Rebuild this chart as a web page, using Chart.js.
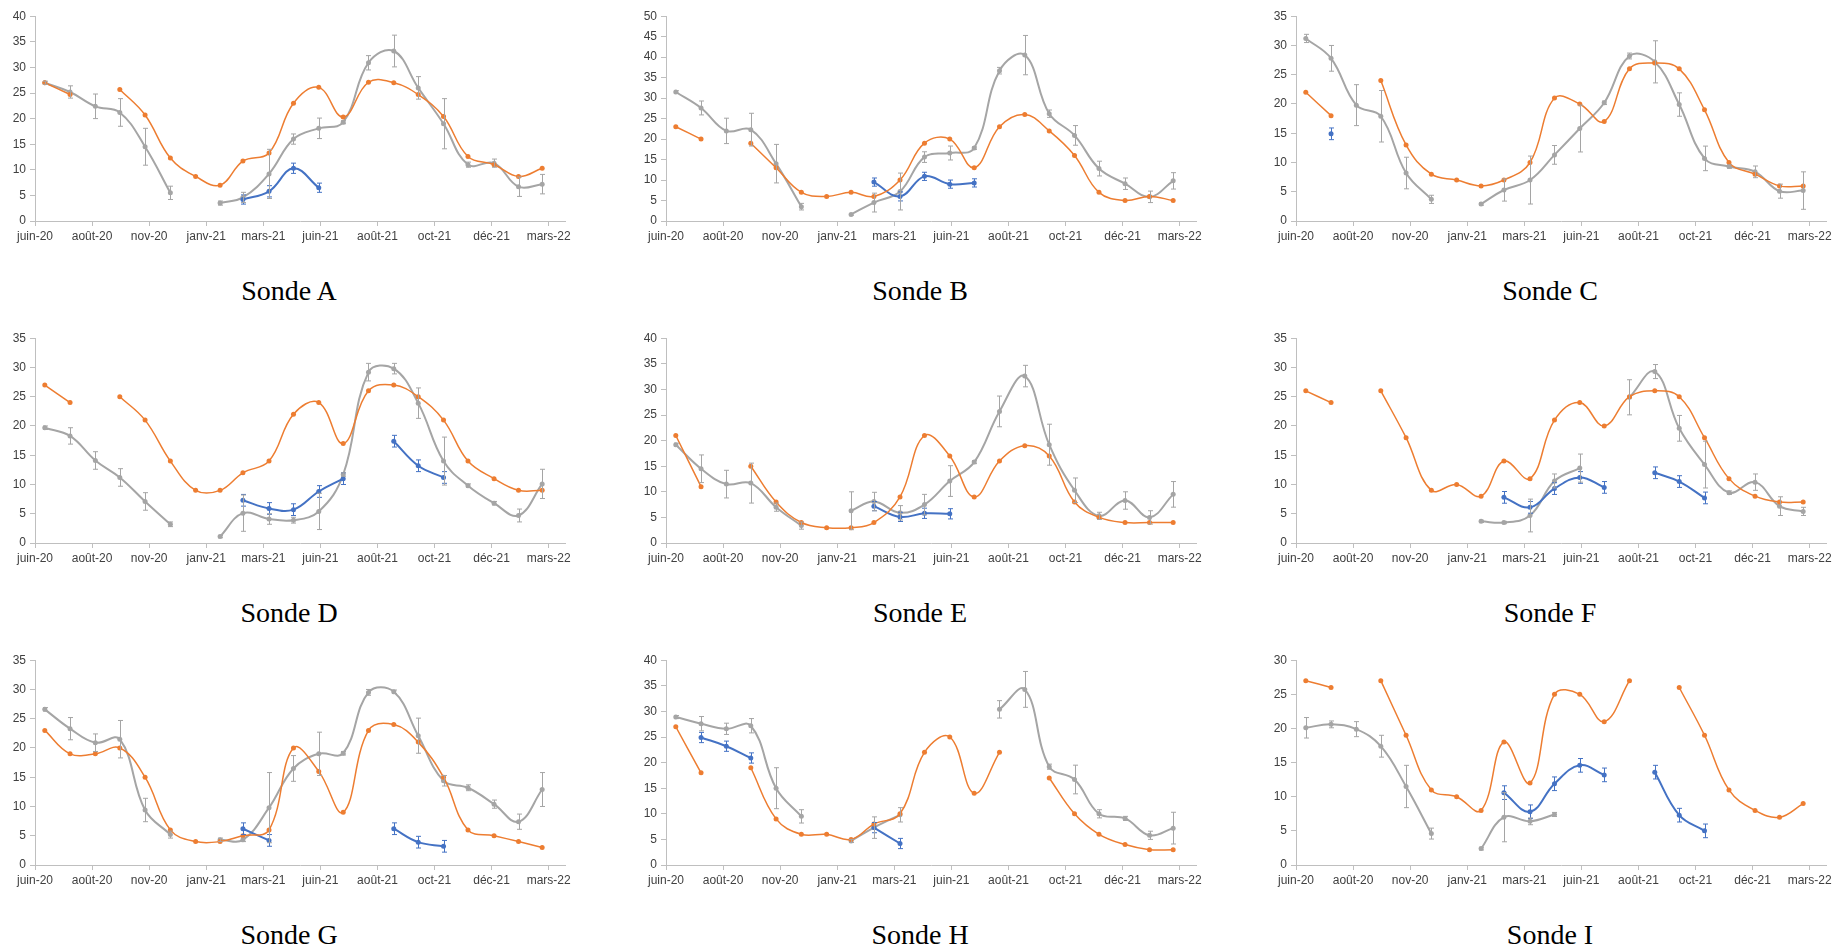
<!DOCTYPE html>
<html lang="fr">
<head>
<meta charset="utf-8">
<title>Sondes</title>
<script src="https://cdn.jsdelivr.net/npm/chart.js@4/dist/chart.umd.min.js"></script>
<style>
  html, body { margin: 0; padding: 0; background: #fff; }
  body { width: 1845px; height: 948px; position: relative; overflow: hidden; }
  canvas { position: absolute; }
  .titre {
    position: absolute;
    font-family: "Liberation Serif", "DejaVu Serif", serif;
    font-size: 28px;
    color: #000;
    transform: translate(-50%, -50%);
    white-space: nowrap;
  }
</style>
</head>
<body>
<script>
// jours depuis le début de l'axe (mi-juin 2020), un prélèvement par mois
const joursPrelevement = [12, 43, 74, 104, 135, 166, 197, 227, 255, 287, 317, 348, 378, 409, 440, 470, 501, 531, 563, 593, 622];
const joursGraduation = [0, 70, 140, 210, 280, 350, 420, 490, 560, 630];
const etiquettesX = ['juin-20', 'août-20', 'nov-20', 'janv-21', 'mars-21', 'juin-21', 'août-21', 'oct-21', 'déc-21', 'mars-22'];
const finAxeX = 650;

const nomsSondes = ['Sonde A', 'Sonde B', 'Sonde C', 'Sonde D', 'Sonde E', 'Sonde F', 'Sonde G', 'Sonde H', 'Sonde I'];
const maxY = [40, 50, 35, 35, 40, 35, 35, 40, 30];

// Sonde A
const aOrange = [27, 24.7, null, 25.7, 20.7, 12.3, 8.7, 7, 11.7, 13.3, 23, 26.1, 20.3, 27.1, 27, 24.7, 20.4, 12.6, 11, 8.7, 10.3];
const aGris = [27, 25.2, 22.4, 21.2, 14.5, 5.5, null, 3.5, 4.6, 9.2, 16, 18.1, 19.3, 30.9, 33.2, 26, 19, 11, 11.3, 6.7, 7.2];
const aGrisErr = [0.3, 1.2, 2.4, 2.7, 3.6, 1.3, null, 0.4, 1, 4.8, 1, 2, 0.3, 1.4, 3.1, 2.2, 4.9, 0.5, 0.8, 1.9, 1.9];
const aBleu = [null, null, null, null, null, null, null, null, 4.2, 5.8, 10.3, 6.5, null, null, null, null, null, null, null, null, null];
const aBleuErr = [null, null, null, null, null, null, null, null, 0.9, 1.1, 1, 0.9, null, null, null, null, null, null, null, null, null];

// Sonde B
const bOrange = [23, 20, null, 19, 13, 7, 6, 7, 6, 10, 19, 20, 13, 23, 26, 22, 16, 7, 5, 6, 5];
const bGris = [31.5, 27.6, 22, 22.3, 14, 3.5, null, 1.6, 4.5, 7.2, 15.6, 16.6, 17.8, 36.7, 40.5, 26.2, 20.9, 12.8, 9.1, 5.9, 9.8];
const bGrisErr = [0.3, 1.7, 3.1, 4, 4.7, 0.8, null, 0.2, 2.3, 4.5, 1.3, 1.7, 0.3, 0.8, 4.8, 0.9, 2.4, 1.8, 1.4, 1.4, 2];
const bBleu = [null, null, null, null, null, null, null, null, 9.5, 6, 10.9, 9, 9.3, null, null, null, null, null, null, null, null];
const bBleuErr = [null, null, null, null, null, null, null, null, 1, 1.1, 1, 1, 1, null, null, null, null, null, null, null, null];

// Sonde C
const cOrange = [22, 18, null, 24, 13, 8, 7, 6, 7, 10, 21, 20, 17, 26, 27, 26, 19, 10, 8, 6, 6];
const cGris = [31.2, 27.8, 19.8, 17.9, 8.2, 3.7, null, 2.9, 5.3, 7, 11.3, 15.8, 20.2, 28.2, 27.2, 19.9, 10.7, 9.3, 8.4, 5.1, 5.2];
const cGrisErr = [0.7, 2.2, 3.5, 4.4, 2.7, 0.7, null, 0.2, 1.9, 4.1, 1.6, 4, 0.3, 0.5, 3.6, 2, 2.1, 0.3, 1, 1.2, 3.2];
const cBleu = [null, 14.9, null, null, null, null, null, null, null, null, null, null, null, null, null, null, null, null, null, null, null];
const cBleuErr = [null, 1, null, null, null, null, null, null, null, null, null, null, null, null, null, null, null, null, null, null, null];

// Sonde D
const dOrange = [27, 24, null, 25, 21, 14, 9, 9, 12, 14, 22, 24, 17, 26, 27, 25, 21, 14, 11, 9, 9];
const dGris = [19.7, 18.3, 14.1, 11.2, 7.1, 3.2, null, 1.1, 5.1, 4.1, 3.9, 5.4, 11.7, 29.2, 29.8, 23.9, 14, 9.8, 6.8, 4.7, 10.1];
const dGrisErr = [0.3, 1.4, 1.5, 1.5, 1.5, 0.4, null, 0.2, 3.1, 0.9, 0.5, 3.1, 0.3, 1.5, 0.9, 2.6, 4.1, 0.3, 0.3, 1.1, 2.5];
const dBleu = [null, null, null, null, null, null, null, null, 7.3, 5.9, 5.7, 8.8, 11, null, 17.4, 13.2, 11.2, null, null, null, null];
const dBleuErr = [null, null, null, null, null, null, null, null, 1, 1, 1, 1, 1, null, 1, 1, 1, null, null, null, null];

// Sonde E
const eOrange = [21, 11, null, 15, 8, 4, 3, 3, 4, 9, 21, 17, 9, 16, 19, 17, 8, 5, 4, 4, 4];
const eGris = [19.2, 14.5, 11.5, 11.7, 7, 3.4, null, 6.3, 8.1, 5.9, 7.5, 12.1, 15.8, 25.7, 32.6, 19.2, 10.3, 5.3, 8.3, 5, 9.5];
const eGrisErr = [0.3, 2.7, 2.7, 3.9, 0.8, 0.7, null, 3.7, 1.8, 1.4, 2, 3, 0.3, 3, 2.1, 4, 2.4, 0.7, 1.7, 1.3, 2.5];
const eBleu = [null, null, null, null, null, null, null, null, 7.2, 5.1, 5.8, 5.7, null, null, null, null, null, null, null, null, null];
const eBleuErr = [null, null, null, null, null, null, null, null, 0.9, 0.9, 1, 1, null, null, null, null, null, null, null, null, null];

// Sonde F
const fOrange = [26, 24, null, 26, 18, 9, 10, 8, 14, 11, 21, 24, 20, 25, 26, 25, 18, 11, 8, 7, 7];
const fGris = [null, null, null, null, null, null, null, 3.7, 3.5, 4.7, 10.6, 12.8, null, 24.9, 29.3, 19.6, 13.4, 8.6, 10.4, 6.3, 5.4];
const fGrisErr = [null, null, null, null, null, null, null, 0.2, 0.2, 2.8, 1.2, 2.4, null, 3, 1.2, 2.2, 4, 0.3, 1.4, 1.6, 0.7];
const fBleu = [null, null, null, null, null, null, null, null, 7.8, 6.1, 9.3, 11.2, 9.5, null, 12, 10.5, 7.7, null, null, null, null];
const fBleuErr = [null, null, null, null, null, null, null, null, 1, 1, 1, 1, 1, null, 1, 1, 1, null, null, null, null];

// Sonde G
const gOrange = [23, 19, 19, 20, 15, 6, 4, 4, 5, 6, 20, 16, 9, 23, 24, 21, 15, 6, 5, 4, 3];
const gGris = [26.6, 23.3, 20.9, 21.5, 9.4, 5.2, null, 4.3, 4.3, 9.8, 16.5, 19, 19.1, 29.5, 29.6, 22.1, 14.4, 13.2, 10.4, 7.4, 12.9];
const gGrisErr = [0.3, 1.9, 1.5, 3.2, 2, 0.6, null, 0.3, 0.3, 6, 2.2, 3.7, 0.3, 0.5, 0.3, 3, 0.9, 0.5, 0.7, 1.3, 2.9];
const gBleu = [null, null, null, null, null, null, null, null, 6.2, 4.2, null, null, null, null, 6.2, 3.9, 3.2, null, null, null, null];
const gBleuErr = [null, null, null, null, null, null, null, null, 1, 1, null, null, null, null, 1, 1, 1, null, null, null, null];

// Sonde H
const hOrange = [27, 18, null, 19, 9, 6, 6, 5, 8, 10, 22, 25, 14, 22, null, 17, 10, 6, 4, 3, 3];
const hGris = [28.9, 27.6, 26.6, 27.2, 15, 9.5, null, 4.7, 7.3, 9.8, null, null, null, 30.4, 34.3, 19.2, 16.7, 10, 9.1, 5.8, 7.2];
const hGrisErr = [0.3, 1.4, 1.1, 1.4, 4, 1.3, null, 0.3, 2.1, 1.4, null, null, null, 1.7, 3.5, 0.5, 2.8, 0.8, 0.4, 0.8, 3.1];
const hBleu = [null, 24.9, 23.2, 20.9, null, null, null, null, 7.3, 4.2, null, null, null, null, null, null, null, null, null, null, null];
const hBleuErr = [null, 1, 1, 1, null, null, null, null, 1, 1, null, null, null, null, null, null, null, null, null, null, null];

// Sonde I
const iOrange = [27, 26, null, 27, 19, 11, 10, 8, 18, 12, 25, 25, 21, 27, null, 26, 19, 11, 8, 7, 9];
const iGris = [20.1, 20.6, 19.9, 17.4, 11.5, 4.6, null, 2.4, 7, 6.4, 7.4, null, null, null, null, null, null, null, null, null, null];
const iGrisErr = [1.5, 0.5, 1.1, 1.6, 3.1, 0.8, null, 0.2, 3.6, 0.5, 0.3, null, null, null, null, null, null, null, null, null, null];
const iBleu = [null, null, null, null, null, null, null, null, 10.6, 7.8, 11.9, 14.6, 13.2, null, 13.6, 7.3, 5, null, null, null, null];
const iBleuErr = [null, null, null, null, null, null, null, null, 1, 1, 1, 1, 1, null, 1, 1, 1, null, null, null, null];

const orange = [aOrange, bOrange, cOrange, dOrange, eOrange, fOrange, gOrange, hOrange, iOrange];
const gris = [aGris, bGris, cGris, dGris, eGris, fGris, gGris, hGris, iGris];
const grisErr = [aGrisErr, bGrisErr, cGrisErr, dGrisErr, eGrisErr, fGrisErr, gGrisErr, hGrisErr, iGrisErr];
const bleu = [aBleu, bBleu, cBleu, dBleu, eBleu, fBleu, gBleu, hBleu, iBleu];
const bleuErr = [aBleuErr, bBleuErr, cBleuErr, dBleuErr, eBleuErr, fBleuErr, gBleuErr, hBleuErr, iBleuErr];

const COUL_ORANGE = '#ED7D31';
const COUL_GRIS = '#A5A5A5';
const COUL_BLEU = '#4472C4';
const COUL_AXE = '#BFBFBF';

// zone de tracé de chaque graphique
const plotLefts = [35, 666, 1296];
const plotTops = [13, 335, 657];
const plotW = 530, plotH = 208;
const axeYLarg = 35, axeXHaut = 30, margeHaut = 8, margeDroite = 25;

Chart.defaults.font.family = '"Liberation Sans Narrow", "Liberation Sans", Arial, sans-serif';
Chart.defaults.font.size = 12;
Chart.defaults.color = '#404040';

// barres d'erreur verticales avec petits chapeaux
const barresErreur = {
  id: 'barresErreur',
  afterDatasetsDraw(chart) {
    const ctx = chart.ctx;
    const yScale = chart.scales.y;
    chart.data.datasets.forEach((ds, di) => {
      if (!ds.erreurs) return;
      const meta = chart.getDatasetMeta(di);
      ctx.save();
      ctx.strokeStyle = ds.couleurErreur;
      ctx.lineWidth = 1;
      meta.data.forEach((pt, i) => {
        const v = ds.data[i].y;
        const e = ds.erreurs[i];
        if (v == null || !e) return;
        const x = Math.round(pt.x) + 0.5;
        const haut = yScale.getPixelForValue(v + e);
        const bas = yScale.getPixelForValue(v - e);
        ctx.beginPath();
        ctx.moveTo(x, haut); ctx.lineTo(x, bas);
        ctx.moveTo(x - 2.5, haut); ctx.lineTo(x + 2.5, haut);
        ctx.moveTo(x - 2.5, bas); ctx.lineTo(x + 2.5, bas);
        ctx.stroke();
      });
      ctx.restore();
    });
  }
};

function points(vals) {
  return joursPrelevement.map((j, i) => ({ x: j, y: vals[i] }));
}

function serie(vals, couleur, epaisseur, erreurs) {
  return {
    data: points(vals),
    borderColor: couleur,
    backgroundColor: couleur,
    borderWidth: epaisseur,
    pointRadius: 2.5,
    pointBorderWidth: 0,
    pointBackgroundColor: couleur,
    tension: 0.4,
    spanGaps: false,
    erreurs: erreurs,
    couleurErreur: couleur
  };
}

for (let k = 0; k < 9; k++) {
  const col = k % 3, row = Math.floor(k / 3);
  const canvas = document.createElement('canvas');
  const w = axeYLarg + plotW + margeDroite;
  const h = margeHaut + plotH + axeXHaut;
  canvas.width = w;
  canvas.height = h;
  canvas.style.left = (plotLefts[col] - axeYLarg) + 'px';
  canvas.style.top = (plotTops[row] - margeHaut) + 'px';
  canvas.style.width = w + 'px';
  canvas.style.height = h + 'px';
  document.body.appendChild(canvas);

  new Chart(canvas.getContext('2d'), {
    type: 'line',
    data: {
      datasets: [
        serie(orange[k], COUL_ORANGE, 1.5, null),
        serie(bleu[k], COUL_BLEU, 2, bleuErr[k]),
        serie(gris[k], COUL_GRIS, 2, grisErr[k])
      ]
    },
    options: {
      responsive: false,
      animation: false,
      devicePixelRatio: 1,
      layout: { padding: { top: margeHaut, right: margeDroite, left: 0, bottom: 0 } },
      plugins: { legend: { display: false }, tooltip: { enabled: false } },
      scales: {
        x: {
          type: 'linear',
          min: 0,
          max: finAxeX,
          afterBuildTicks: (axis) => { axis.ticks = joursGraduation.map(v => ({ value: v })); },
          afterFit: (axis) => { axis.height = axeXHaut; },
          ticks: {
            autoSkip: false,
            maxRotation: 0,
            padding: 3,
            callback: (v, i) => etiquettesX[i]
          },
          grid: { drawOnChartArea: false, drawTicks: true, tickLength: 5, color: COUL_AXE },
          border: { display: true, color: COUL_AXE, width: 1 }
        },
        y: {
          min: 0,
          max: maxY[k],
          afterFit: (axis) => { axis.width = axeYLarg; },
          ticks: { stepSize: 5, padding: 4 },
          grid: { drawOnChartArea: false, drawTicks: true, tickLength: 5, color: COUL_AXE },
          border: { display: true, color: COUL_AXE, width: 1 }
        }
      }
    },
    plugins: [barresErreur]
  });

  const titre = document.createElement('div');
  titre.className = 'titre';
  titre.textContent = nomsSondes[k];
  titre.style.left = (plotLefts[col] + plotW / 2 - 11) + 'px';
  titre.style.top = (plotTops[row] + plotH + 70) + 'px';
  document.body.appendChild(titre);
}
</script>
</body>
</html>
